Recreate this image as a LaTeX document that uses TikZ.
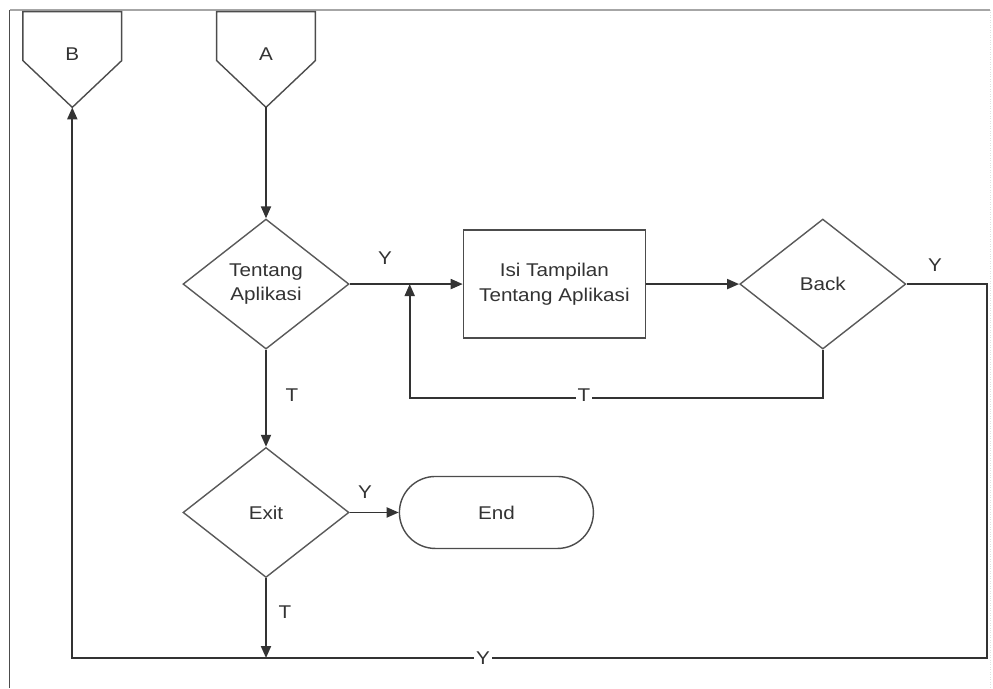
\documentclass[tikz,border=0pt]{standalone}
\usepackage{fontspec}
\setmainfont{Liberation Sans}[FakeStretch=1.12]
\usetikzlibrary{shapes.geometric,arrows.meta,positioning,calc}
\tikzset{
  decision/.style = {draw=black!65, thick, diamond, minimum width=3.32cm, minimum height=2.6cm, inner sep=0pt, align=center},
  process/.style = {draw=black!70, thick, rectangle, minimum width=3.64cm, minimum height=2.16cm, align=center},
  terminal/.style = {draw=black!70, thick, rectangle, rounded corners=7.2mm, minimum width=3.88cm, minimum height=1.44cm, align=center},
  offpage/.style = {rectangle, minimum width=1.96cm, minimum height=1.9cm, inner sep=0pt},
  lbl/.style = {inner sep=1pt, text=black!80},
  flow/.style = {draw=black!80, line width=1.1pt},
  arrow/.style = {flow, -{Triangle[length=2.4mm, width=2mm]}}
}
\begin{document}
\begin{tikzpicture}[node distance=2 and 2, font=\fontsize{10.5}{14}\selectfont, text=black!80]
    \useasboundingbox (0,0) rectangle (19.86,-13.76);
    % frame
    \draw[black!70, line width=1pt] (0.19,-13.76) -- (0.19,-0.2);
    \draw[black!35, line width=0.8pt] (0.19,-0.2) -- (19.8,-0.2);
    \draw[black!12, densely dotted] (19.8,-0.2) -- (19.8,-13.76);

    \node[offpage] (A) at (5.32,-1.19) {\raisebox{0.22cm}{A}};
    \node[offpage, left=1.9 of A] (B) {\raisebox{0.22cm}{B}};
    \foreach \c in {A,B}
        \draw[draw=black!70, thick] (\c.north west) -- (\c.north east) -- ++(0,-0.98)
            -- (\c.south) -- ($(\c.north west)+(0,-0.98)$) -- cycle;

    \node[decision, below=2.22 of A] (tentang) {Tentang\\Aplikasi};
    \node[process, right=2.26 of tentang] (isi) {Isi Tampilan\\Tentang Aplikasi};
    \node[decision, right=1.86 of isi] (back) {Back};
    \node[decision, below=1.94 of tentang] (exit) {Exit};
    \node[terminal, right=0.98 of exit] (end) {End};

    \coordinate (join) at ($(tentang.east)+(1.2,0)$);
    \coordinate (loopR) at (19.74,-13.16);

    \draw[arrow] (A.south) -- (tentang.north);
    \draw[arrow] (tentang.east) -- (isi.west);
    \draw[arrow] (isi.east) -- (back.west);
    \draw[arrow] (back.south) -- ++(0,-0.96) -| (join);
    \draw[arrow] (tentang.south) -- (exit.north);
    \draw[arrow] (exit.east) -- (end.west);
    \draw[arrow] (exit.south) -- (exit.south |- loopR);
    \draw[arrow] (back.east) -| (loopR) -| (B.south);

    \node[lbl] (yTentang) at (7.7,-5.16) {Y};
    \node[lbl] (yBack) at (18.7,-5.3) {Y};
    \node[lbl] (tTentang) at (5.84,-7.9) {T};
    \node[lbl] (yExit) at (7.3,-9.84) {Y};
    \node[lbl] (tExit) at (5.7,-12.24) {T};
    \node[lbl, fill=white] (yLoop) at (9.66,-13.16) {Y};
    \node[lbl, fill=white] (tLoop) at (11.68,-7.9) {T};
\end{tikzpicture}
\end{document}
